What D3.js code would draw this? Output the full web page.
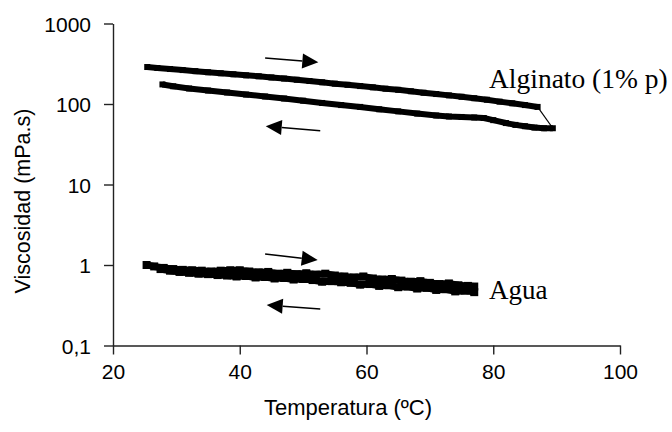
<!DOCTYPE html>
<html><head><meta charset="utf-8">
<script src="https://cdn.jsdelivr.net/npm/d3@7"></script>
<style>
body{margin:0;background:#fff;}
svg{display:block;}
</style></head>
<body>
<svg id="c" width="672" height="432"></svg>
<script>
// ---- data ----
const xTicks = [20, 40, 60, 80, 100];
const yTicks = [0.1, 1, 10, 100, 1000];
const yTickLabels = ["0,1", "1", "10", "100", "1000"];
const xTitle = "Temperatura (ºC)";
const yTitle = "Viscosidad (mPa.s)";

// Alginato 1% — heating (T, mPa.s)
const algHeatT = [25.4,27,29,31,33,35,37,39,41,43,45,47,49,51,53,55,57,59,61,63,65,67,69,71,73,75,77,79,81,83,85,87];
const algHeatV = [288,280,272,264,256,248,241,234,227,221,214,207,200,193,186,179,173,167,161,155,150,144,138,133,128,123,118,113,107,102,97,92];
// Alginato 1% — cooling
const algCoolT = [89.4,88,86.5,85,83.5,82,80,78.5,77,75,73,71,68,65,62,59,56,53,50,47,44,41,38,35,32,29.5,27.8];
const algCoolV = [50,50,51,53,55,58,63,67,68,69,70,72,76,81,86,92,97,103,110,117,124,131,139,147,156,166,175];

// Agua — heating
const aguaHeatT = [25.3,26.5,28,29.5,31,32.5,34,35.5,37,38.5,40,41.5,43,44.5,46,47.5,49,50.5,52,53.5,55,56.5,58,59.5,61,62.5,64,65.5,67,68.5,70,71.5,73,74.5,76,77];
const aguaHeatV = [1.00,0.96,0.92,0.89,0.87,0.86,0.85,0.83,0.85,0.86,0.86,0.83,0.81,0.82,0.78,0.80,0.77,0.79,0.76,0.78,0.74,0.72,0.70,0.72,0.68,0.66,0.67,0.64,0.62,0.63,0.60,0.58,0.59,0.56,0.55,0.54];
// Agua — cooling
const aguaCoolT = [77,75.5,74,72.5,71,69.5,68,66.5,65,63.5,62,60.5,59,57.5,56,54.5,53,51.5,50,48.5,47,45.5,44,42.5,41,39.5,38,36.5,35,33.5,32,30.5,29,27.5];
const aguaCoolV = [0.46,0.48,0.47,0.50,0.49,0.52,0.51,0.54,0.53,0.56,0.55,0.58,0.57,0.60,0.61,0.63,0.62,0.65,0.67,0.66,0.69,0.68,0.71,0.70,0.73,0.72,0.74,0.75,0.77,0.78,0.80,0.82,0.85,0.89];

// Arrow annotations (data units): from (T0, v0) to head at (T1, v1)
const arrowFromT = [44.0, 52.7, 44.0, 52.7];
const arrowFromV = [372, 46.6, 1.37, 0.284];
const arrowToT   = [52.4, 44.1, 52.3, 44.25];
const arrowToV   = [330, 53, 1.15, 0.318];

const labelTexts = ["Alginato (1% p)", "Agua"];

// ---- chart ----
const svg = d3.select("#c");
const x = d3.scaleLinear().domain([20, 100]).range([113, 620]);
const y = d3.scaleLog().domain([0.1, 1000]).range([345.5, 23.5]);

const sans = "'Liberation Sans', Arial, sans-serif";
const serif = "'Liberation Serif', 'Times New Roman', serif";

// axes
const gx = svg.append("g").attr("transform", `translate(0,${y(0.1)})`)
  .call(d3.axisBottom(x).tickValues(xTicks).tickSize(9).tickSizeOuter(0).tickPadding(10).tickFormat(d3.format("d")));
const gy = svg.append("g").attr("transform", `translate(${x(20)},0)`)
  .call(d3.axisLeft(y).tickValues(yTicks).tickSize(9).tickSizeOuter(0).tickPadding(13)
    .tickFormat(d => yTickLabels[yTicks.indexOf(d)]));
[gx, gy].forEach(g => {
  g.selectAll("path.domain").attr("stroke", "#222").attr("stroke-width", 1.4);
  g.selectAll(".tick line").attr("stroke", "#222").attr("stroke-width", 1.4);
  g.selectAll(".tick text").attr("font-family", sans).attr("font-size", 21).attr("fill", "#000");
});
gy.selectAll(".tick text").attr("dy", "0.36em");

svg.append("text").attr("x", 348).attr("y", 415).attr("text-anchor", "middle")
  .attr("font-family", sans).attr("font-size", 22).text(xTitle);
svg.append("text").attr("transform", `translate(30,${201}) rotate(-90)`).attr("text-anchor", "middle")
  .attr("font-family", sans).attr("font-size", 21.5).text(yTitle);

function zip(T, V) { return T.map((t, i) => [t, V[i]]); }
const line = d3.line().x(d => x(d[0])).y(d => y(d[1]));

function series(T, V, lw, ms) {
  const pts = zip(T, V);
  svg.append("path").datum(pts).attr("d", line).attr("fill", "none")
    .attr("stroke", "#000").attr("stroke-width", lw).attr("stroke-linejoin", "round");
  svg.append("g").selectAll("rect").data(pts).join("rect")
    .attr("x", d => x(d[0]) - ms / 2).attr("y", d => y(d[1]) - ms / 2)
    .attr("width", ms).attr("height", ms).attr("fill", "#000");
}

// alginate
series(algHeatT, algHeatV, 6, 6);
svg.append("path").datum([[algHeatT[algHeatT.length - 1], algHeatV[algHeatV.length - 1]], [algCoolT[0], algCoolV[0]]])
  .attr("d", line).attr("fill", "none").attr("stroke", "#000").attr("stroke-width", 1.2);
series(algCoolT, algCoolV, 6, 6);

// water
series(aguaHeatT, aguaHeatV, 7, 8);
series(aguaCoolT, aguaCoolV, 7, 8);

// arrows
arrowFromT.forEach((t0, i) => {
  const x0 = x(t0), y0 = y(arrowFromV[i]), x1 = x(arrowToT[i]), y1 = y(arrowToV[i]);
  const ang = Math.atan2(y1 - y0, x1 - x0);
  const hl = 16, hw = 7.5;
  const bx = x1 - hl * Math.cos(ang), by = y1 - hl * Math.sin(ang);
  svg.append("line").attr("x1", x0).attr("y1", y0).attr("x2", bx).attr("y2", by)
    .attr("stroke", "#000").attr("stroke-width", 1.6);
  const px = -Math.sin(ang), py = Math.cos(ang);
  svg.append("polygon").attr("points",
    [[x1, y1], [bx + hw * px, by + hw * py], [bx - hw * px, by - hw * py]].map(p => p.join(",")).join(" "))
    .attr("fill", "#000");
});

// labels
svg.append("text").attr("x", 489).attr("y", 88).attr("font-family", serif).attr("font-size", 27.5).text(labelTexts[0]);
svg.append("text").attr("x", 489).attr("y", 299).attr("font-family", serif).attr("font-size", 27).text(labelTexts[1]);
</script>
</body></html>
